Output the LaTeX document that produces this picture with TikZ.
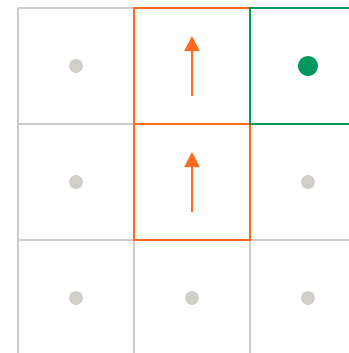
\documentclass[tikz,border=0pt]{standalone}
\usetikzlibrary{arrows.meta}

\definecolor{gridgray}{HTML}{CCCCCC}
\definecolor{dotgray}{HTML}{D2CFCA}
\definecolor{pathorange}{HTML}{FF6A1F}
\definecolor{goalgreen}{HTML}{009A5E}

\tikzset{
  dot/.style={circle, fill=dotgray, inner sep=0pt, minimum size=2.4mm},
  goaldot/.style={circle, fill=goalgreen, inner sep=0pt, minimum size=3.45mm},
  move/.style={pathorange, -{Triangle[length=2.6mm, width=2.6mm]}}
}

\begin{document}
\begin{tikzpicture}[line width=1pt, x=2cm, y=2cm]
  % frame (grid runs past the right and bottom edges)
  \useasboundingbox (-0.155,0.026) rectangle (2.853,3.069);
  \clip (-0.155,0.026) rectangle (2.853,3.069);

  % grid
  \draw[gridgray, step=2cm] (0,0) grid (3,3);

  % cell dots
  \foreach \i/\j in {0/2, 0/1, 0/0, 1/0, 2/1, 2/0}
    \node[dot] (c\i\j) at (\i+0.5,\j+0.5) {};
  \node[goaldot] (goal) at (2.5,2.5) {};

  % path cells
  \draw[pathorange] (1,2) rectangle (2,3);
  \draw[pathorange] (1,1) rectangle (2,2);
  \draw[goalgreen] (2,2) rectangle (3,3);

  % moves
  \foreach \j in {1,2} {
    \coordinate (s\j) at (1.5,\j+0.5-0.2586);
    \coordinate (t\j) at (1.5,\j+0.5+0.2586);
    \draw[move] (s\j) -- (t\j);
  }
\end{tikzpicture}
\end{document}
